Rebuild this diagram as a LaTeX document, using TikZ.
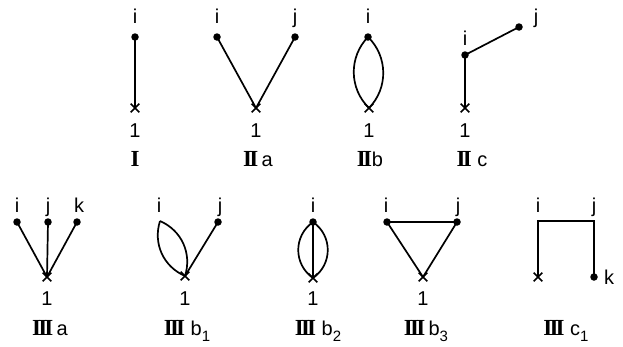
\documentclass[tikz,border=0pt]{standalone}
\usepackage{fontspec}
\setmainfont{Liberation Sans}
\newfontfamily\rnfont{Liberation Serif}
\usetikzlibrary{shapes.misc}
\newcommand{\sbs}[1]{\raisebox{-0.6ex}{\fontsize{15}{15}\selectfont #1}}
\newcommand{\rnI}{{\rnfont\fontsize{23}{23}\selectfont\bfseries I}}
\newcommand{\rnII}{{\rnfont\fontsize{23}{23}\selectfont\bfseries I\kern-2.8pt I}}
\newcommand{\rnIII}{{\rnfont\fontsize{23}{23}\selectfont\bfseries I\kern-2.8pt I\kern-2.8pt I}}
\begin{document}
\begin{tikzpicture}[x=1pt,y=-1pt,
  dot/.style={circle,fill,inner sep=0pt,minimum size=7.5pt},
  xmark/.style={cross out,draw,line width=1.6pt,inner sep=0pt,minimum size=7pt},
  edge/.style={line width=1.7pt},
  lab/.style={font=\fontsize{20}{20}\selectfont,inner sep=0pt,anchor=base},
  figcap/.style={font=\fontsize{20}{20}\selectfont,inner sep=0pt,anchor=base}]
\useasboundingbox (0,0) rectangle (623,346);

% ---------- I ----------
\node[dot] (Ai) at (135,37) {};
\node[xmark] (A1) at (135,108) {};
\draw[edge] (Ai.center) -- (A1.center);
\node[lab] (Ali) at (135,23) {i};
\node[lab] (Al1) at (135,137) {1};
\node[figcap] (Acap) at (135,166) {\rnI};

% ---------- IIa ----------
\node[dot] (Bi) at (217,37) {};
\node[dot] (Bj) at (295,37) {};
\node[xmark] (B1) at (256,108) {};
\draw[edge] (Bi.center) -- (B1.center) -- (Bj.center);
\node[lab] (Bli) at (217,23) {i};
\node[lab] (Blj) at (295,23) {j};
\node[lab] (Bl1) at (256,137) {1};
\node[figcap] (Bcap) at (258,166) {\rnII\,a};

% ---------- IIb ----------
\node[dot] (Ci) at (368,37) {};
\node[xmark] (C1) at (369,108) {};
\draw[edge] (Ci.center) to[bend right=45] (C1.center);
\draw[edge] (Ci.center) to[bend left=45] (C1.center);
\node[lab] (Cli) at (368,23) {i};
\node[lab] (Cl1) at (369,137) {1};
\node[figcap] (Ccap) at (370,166) {\rnII b};

% ---------- IIc ----------
\node[dot] (Di) at (465,55) {};
\node[dot] (Dj) at (519,27) {};
\node[xmark] (D1) at (465,108) {};
\draw[edge] (D1.center) -- (Di.center) -- (Dj.center);
\node[lab] (Dli) at (465,45) {i};
\node[lab] (Dlj) at (536,23) {j};
\node[lab] (Dl1) at (465,137) {1};
\node[figcap] (Dcap) at (472,166) {\rnII\ c};

% ---------- IIIa ----------
\node[dot] (Ei) at (17,222) {};
\node[dot] (Ej) at (48,222) {};
\node[dot] (Ek) at (77,222) {};
\node[xmark] (E1) at (47,277) {};
\draw[edge] (Ei.center) -- (E1.center);
\draw[edge] (Ej.center) -- (E1.center);
\draw[edge] (Ek.center) -- (E1.center);
\node[lab] (Eli) at (17,212) {i};
\node[lab] (Elj) at (48,212) {j};
\node[lab] (Elk) at (79,212) {k};
\node[lab] (El1) at (47,305) {1};
\node[figcap] (Ecap) at (50,335) {\rnIII\,a};

% ---------- IIIb1 ----------
\coordinate (Fi) at (160,221);
\node[dot] (Fj) at (218,222) {};
\node[xmark] (F1) at (185,276) {};
\draw[edge] (Fi) to[bend right=42] (F1.center);
\draw[edge] (Fi) to[bend left=42] (F1.center);
\draw[edge] (F1.center) -- (Fj.center);
\node[lab] (Fli) at (159,212) {i};
\node[lab] (Flj) at (220,212) {j};
\node[lab] (Fl1) at (185,305) {1};
\node[figcap] (Fcap) at (187,335) {\rnIII\ b\sbs{1}};

% ---------- IIIb2 ----------
\node[dot] (Gi) at (313,222) {};
\node[xmark] (G1) at (313,278) {};
\draw[edge] (Gi.center) -- (G1.center);
\draw[edge] (Gi.center) to[bend right=55,looseness=1.1] (G1.center);
\draw[edge] (Gi.center) to[bend left=55,looseness=1.1] (G1.center);
\node[lab] (Gli) at (313,212) {i};
\node[lab] (Gl1) at (313,305) {1};
\node[figcap] (Gcap) at (318,335) {\rnIII\ b\sbs{2}};

% ---------- IIIb3 ----------
\node[dot] (Hi) at (387,222) {};
\node[dot] (Hj) at (457,222) {};
\node[xmark] (H1) at (423,277) {};
\draw[edge] (Hi.center) -- (Hj.center) -- (H1.center) -- cycle;
\node[lab] (Hli) at (386,212) {i};
\node[lab] (Hlj) at (458,212) {j};
\node[lab] (Hl1) at (423,305) {1};
\node[figcap] (Hcap) at (426,335) {\rnIII\,b\sbs{3}};

% ---------- IIIc1 ----------
\coordinate (Ki) at (538,221);
\coordinate (Kj) at (594,221);
\node[xmark] (K1) at (538,277) {};
\node[dot] (Kk) at (594,277) {};
\draw[edge] (K1.center) -- (Ki) -- (Kj) -- (Kk.center);
\node[lab] (Kli) at (538,212) {i};
\node[lab] (Klj) at (594,212) {j};
\node[lab] (Klk) at (609,284) {k};
\node[figcap] (Kcap) at (566,335) {\rnIII\ c\sbs{1}};
\end{tikzpicture}
\end{document}
